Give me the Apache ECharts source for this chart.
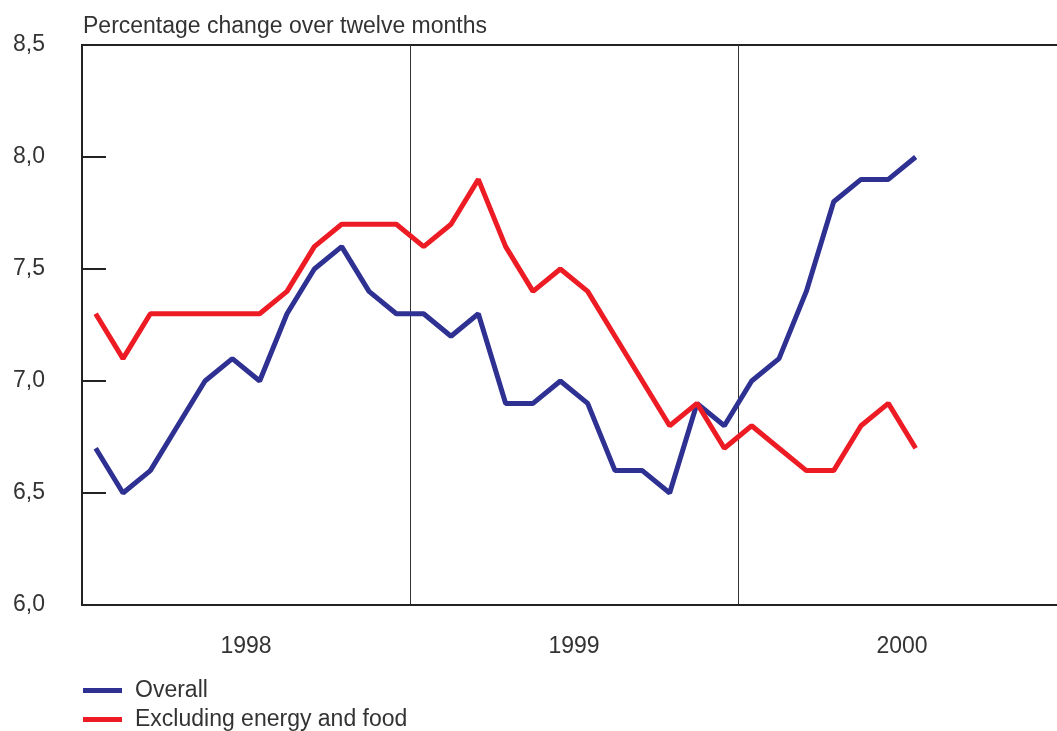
<!DOCTYPE html>
<html>
<head>
<meta charset="utf-8">
<script src="https://cdn.jsdelivr.net/npm/echarts@6/dist/echarts.min.js"></script>
<style>
  html, body { margin: 0; padding: 0; background: #fff; }
  #chart { width: 1057px; height: 731px; }
</style>
</head>
<body>
<div id="chart"></div>
<script>
const years = ["1998", "1999", "2000"];
const months = [
  "1998-01", "1998-02", "1998-03", "1998-04", "1998-05", "1998-06",
  "1998-07", "1998-08", "1998-09", "1998-10", "1998-11", "1998-12",
  "1999-01", "1999-02", "1999-03", "1999-04", "1999-05", "1999-06",
  "1999-07", "1999-08", "1999-09", "1999-10", "1999-11", "1999-12",
  "2000-01", "2000-02", "2000-03", "2000-04", "2000-05", "2000-06",
  "2000-07", "2000-08", "2000-09", "2000-10", "2000-11", "2000-12"
];
const overall = [
  6.7, 6.5, 6.6, 6.8, 7.0, 7.1, 7.0, 7.3, 7.5, 7.6, 7.4, 7.3,
  7.3, 7.2, 7.3, 6.9, 6.9, 7.0, 6.9, 6.6, 6.6, 6.5, 6.9, 6.8,
  7.0, 7.1, 7.4, 7.8, 7.9, 7.9, 8.0
];
const excluding = [
  7.3, 7.1, 7.3, 7.3, 7.3, 7.3, 7.3, 7.4, 7.6, 7.7, 7.7, 7.7,
  7.6, 7.7, 7.9, 7.6, 7.4, 7.5, 7.4, 7.2, 7.0, 6.8, 6.9, 6.7,
  6.8, 6.7, 6.6, 6.6, 6.8, 6.9, 6.7
];

const textColor = "#333";
const font = "Liberation Sans";
const fontSize = 23;

const chart = echarts.init(document.getElementById("chart"));
chart.setOption({
  animation: false,
  title: {
    text: "Percentage change over twelve months",
    left: 83,
    top: 15,
    padding: 0,
    textStyle: { fontFamily: font, fontSize: fontSize, fontWeight: "normal", color: textColor }
  },
  legend: {
    orient: "vertical",
    left: 83,
    top: 679,
    padding: 0,
    icon: "rect",
    itemWidth: 39,
    itemHeight: 5,
    itemGap: 6,
    textStyle: { fontFamily: font, fontSize: fontSize, color: textColor, padding: [0, 0, 0, 8] },
    data: ["Overall", "Excluding energy and food"]
  },
  grid: {
    left: 82, width: 984, top: 45, bottom: 126,
    outerBoundsMode: "none",
    show: true, borderColor: "#222", borderWidth: 2
  },
  xAxis: [
    {
      type: "category",
      data: months,
      boundaryGap: true,
      axisLine: { show: true, lineStyle: { color: "#222", width: 2 } },
      axisTick: { show: false },
      axisLabel: { show: false },
      splitLine: { show: false }
    },
    {
      type: "category",
      data: years,
      position: "bottom",
      boundaryGap: true,
      axisLine: { show: false },
      axisTick: { show: false },
      axisLabel: { margin: 30, fontFamily: font, fontSize: fontSize, color: textColor },
      splitLine: { show: true, lineStyle: { color: "#333", width: 1 } }
    }
  ],
  yAxis: {
    type: "value",
    min: 6.0,
    max: 8.5,
    interval: 0.5,
    axisLine: { show: true, lineStyle: { color: "#222", width: 2 } },
    axisTick: { show: true, inside: true, length: 24, lineStyle: { color: "#222", width: 2 } },
    axisLabel: {
      margin: 37,
      fontFamily: font,
      fontSize: fontSize,
      color: textColor,
      formatter: (v) => v.toFixed(1).replace(".", ",")
    },
    splitLine: { show: false }
  },
  series: [
    {
      name: "Overall",
      type: "line",
      data: overall,
      symbol: "none",
      lineStyle: { color: "#2e3192", width: 5 },
      itemStyle: { color: "#2e3192" }
    },
    {
      name: "Excluding energy and food",
      type: "line",
      data: excluding,
      symbol: "none",
      z: 3,
      lineStyle: { color: "#ed1c24", width: 5 },
      itemStyle: { color: "#ed1c24" }
    }
  ]
});
</script>
</body>
</html>
